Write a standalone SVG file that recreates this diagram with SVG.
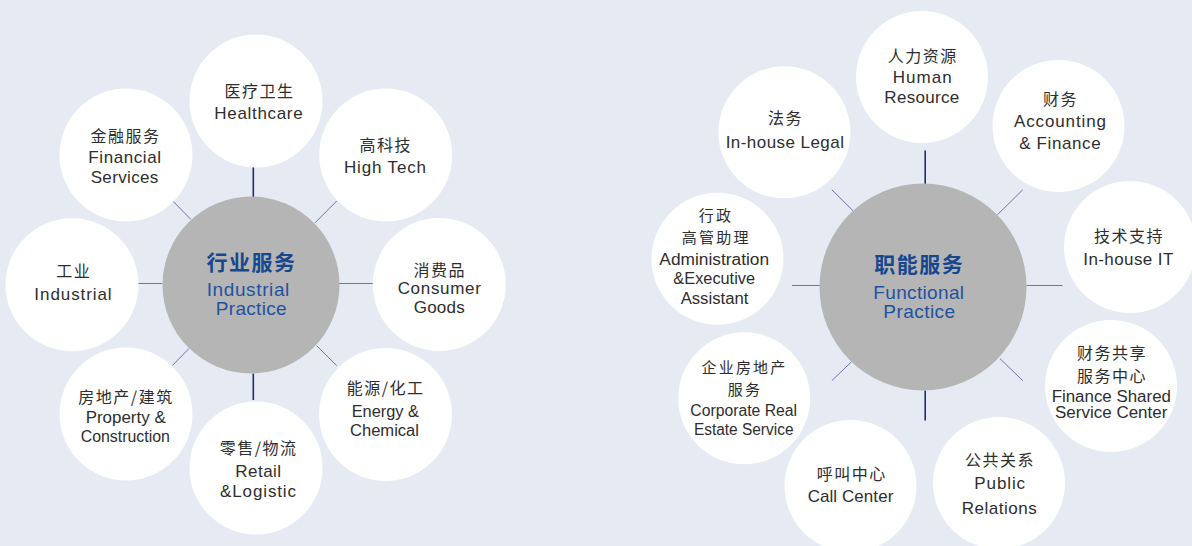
<svg xmlns="http://www.w3.org/2000/svg" width="1192" height="546" viewBox="0 0 1192 546">
<style>
.bg{fill:#e6eaf3}
.sat{fill:#ffffff}
.hub{fill:#b5b5b5}
.cv{stroke:#1d2f72;stroke-width:1.6;fill:none}
.cd{stroke:#6d72b3;stroke-width:1;fill:none}
text{text-anchor:middle;fill:#2e2e2e}
.zh{font-family:"Noto Sans CJK SC","Noto Sans CJK TC",sans-serif;font-size:16px;letter-spacing:1.5px}
.zs{font-family:"Noto Sans CJK SC","Noto Sans CJK TC",sans-serif;font-size:15px;letter-spacing:2.2px}
.en{font-family:"Liberation Sans",Arial,sans-serif;font-size:17px}
.et{font-family:"Liberation Sans",Arial,sans-serif;font-size:16px}
.hzh{font-family:"Noto Sans CJK SC","Noto Sans CJK TC",sans-serif;font-size:21px;font-weight:bold;letter-spacing:1.5px;fill:#17488f}
.hen{font-family:"Liberation Sans",Arial,sans-serif;font-size:19px;fill:#1f52a0}
</style>
<rect class="bg" x="0" y="0" width="1192" height="546"/>

<g id="connectors">
<line class="cv" x1="253.3" y1="167" x2="253.3" y2="197"/>
<line class="cv" x1="253.3" y1="373.5" x2="253.3" y2="400"/>
<line class="cd" x1="138" y1="283.5" x2="162.5" y2="283.5"/>
<line class="cd" x1="339" y1="283.5" x2="372.7" y2="283.5"/>
<line class="cd" x1="172.3" y1="200.5" x2="191" y2="219.5"/>
<line class="cd" x1="315" y1="222.8" x2="336.7" y2="201"/>
<line class="cd" x1="172.3" y1="365.6" x2="189" y2="348.5"/>
<line class="cd" x1="316.7" y1="345.7" x2="336.7" y2="365.6"/>

<line class="cv" x1="925.2" y1="150.4" x2="925.2" y2="184"/>
<line class="cv" x1="925.2" y1="390.5" x2="925.2" y2="420.6"/>
<line class="cd" x1="792" y1="285.5" x2="820" y2="285.5"/>
<line class="cd" x1="1026.5" y1="285.5" x2="1062.5" y2="285.5"/>
<line class="cd" x1="831.9" y1="189.8" x2="853" y2="210.7"/>
<line class="cd" x1="997.4" y1="214.8" x2="1022.7" y2="189.8"/>
<line class="cd" x1="999.9" y1="358.6" x2="1022.7" y2="380.6"/>
<line class="cd" x1="831.9" y1="380.6" x2="851.3" y2="362"/>
</g>

<!-- Left cluster -->
<g id="industrial-practice">
<circle class="hub" cx="251" cy="285" r="88.5"/>
<text class="hzh" x="251.5" y="270">行业服务</text>
<text class="hen" x="248" y="296" textLength="82.7">Industrial</text>
<text class="hen" x="251.2" y="315.3" textLength="71">Practice</text>
</g>
<g id="healthcare">
<circle class="sat" cx="256" cy="101" r="66.5"/>
<text class="zh" x="259.5" y="97">医疗卫生</text>
<text class="en" x="258.5" y="119.3" textLength="88.3">Healthcare</text>
</g>
<g id="high-tech">
<circle class="sat" cx="385.7" cy="155" r="66.5"/>
<text class="zh" x="385.7" y="150.7">高科技</text>
<text class="en" x="385" y="173" textLength="82">High Tech</text>
</g>
<g id="consumer-goods">
<circle class="sat" cx="439.3" cy="284.5" r="66.5"/>
<text class="zh" x="439.7" y="275.7">消费品</text>
<text class="en" x="439.3" y="294.2" textLength="83.3">Consumer</text>
<text class="en" x="439.2" y="313.4" textLength="51">Goods</text>
</g>
<g id="energy-chemical">
<circle class="sat" cx="385.5" cy="414.5" r="66.5"/>
<text class="zh" x="385.7" y="393.7">能源/化工</text>
<text class="et" x="385.3" y="417" textLength="67.3" lengthAdjust="spacingAndGlyphs">Energy &amp;</text>
<text class="et" x="384.5" y="436" textLength="69" lengthAdjust="spacingAndGlyphs">Chemical</text>
</g>
<g id="retail-logistic">
<circle class="sat" cx="256" cy="468" r="66.5"/>
<text class="zh" x="258.7" y="454">零售/物流</text>
<text class="en" x="258.2" y="477" textLength="45.7">Retail</text>
<text class="en" x="258" y="497" textLength="76">&amp;Logistic</text>
</g>
<g id="property-construction">
<circle class="sat" cx="126" cy="414" r="66.5"/>
<text class="zh" x="126" y="403.3">房地产/建筑</text>
<text class="et" x="125.7" y="423" textLength="80" lengthAdjust="spacingAndGlyphs">Property &amp;</text>
<text class="et" x="125.3" y="441.5" textLength="89.3" lengthAdjust="spacingAndGlyphs">Construction</text>
</g>
<g id="industrial">
<circle class="sat" cx="72" cy="284.7" r="66.5"/>
<text class="zh" x="73.7" y="277">工业</text>
<text class="en" x="73" y="300" textLength="77.3">Industrial</text>
</g>
<g id="financial-services">
<circle class="sat" cx="126" cy="155" r="66.5"/>
<text class="zh" x="125.5" y="141.5">金融服务</text>
<text class="en" x="124.7" y="163" textLength="72.7">Financial</text>
<text class="en" x="124.5" y="182.8" textLength="67.7">Services</text>
</g>

<!-- Right cluster -->
<g id="functional-practice">
<circle class="hub" cx="923" cy="287" r="103.5"/>
<text class="hzh" x="919.2" y="271.7">职能服务</text>
<text class="hen" x="918.7" y="299.3" textLength="90.7">Functional</text>
<text class="hen" x="919.2" y="318.3" textLength="71.7">Practice</text>
</g>
<g id="human-resource">
<circle class="sat" cx="922" cy="77" r="66"/>
<text class="zh" x="922.7" y="62">人力资源</text>
<text class="en" x="922.2" y="82.5" textLength="58.8">Human</text>
<text class="en" x="921.8" y="103" textLength="75">Resource</text>
</g>
<g id="accounting-finance">
<circle class="sat" cx="1058.5" cy="126" r="66"/>
<text class="zh" x="1060.5" y="105">财务</text>
<text class="en" x="1060" y="126.5" textLength="91.9">Accounting</text>
<text class="en" x="1060" y="148.7" textLength="81.3">&amp; Finance</text>
</g>
<g id="in-house-it">
<circle class="sat" cx="1130" cy="247" r="66"/>
<text class="zh" x="1129" y="242">技术支持</text>
<text class="en" x="1128.3" y="265" textLength="90">In-house IT</text>
</g>
<g id="finance-shared-service-center">
<circle class="sat" cx="1111" cy="386" r="66"/>
<text class="zh" x="1112" y="359">财务共享</text>
<text class="zh" x="1112" y="382">服务中心</text>
<text class="et" x="1111.3" y="402.3" textLength="119.3" lengthAdjust="spacingAndGlyphs">Finance Shared</text>
<text class="et" x="1111.2" y="418.3" textLength="112.3" lengthAdjust="spacingAndGlyphs">Service Center</text>
</g>
<g id="public-relations">
<circle class="sat" cx="999" cy="483" r="66"/>
<text class="zh" x="999.9" y="466">公共关系</text>
<text class="en" x="999.7" y="489" textLength="50.7">Public</text>
<text class="en" x="999.2" y="514" textLength="75">Relations</text>
</g>
<g id="call-center">
<circle class="sat" cx="850.5" cy="486" r="66"/>
<text class="zh" x="851.7" y="480">呼叫中心</text>
<text class="en" x="850.5" y="502.3" textLength="85.7">Call Center</text>
</g>
<g id="corporate-real-estate-service">
<circle class="sat" cx="744.2" cy="398.3" r="66"/>
<text class="zs" x="744.5" y="373">企业房地产</text>
<text class="zs" x="745" y="395.3">服务</text>
<text class="et" x="743.7" y="416.4" textLength="106.7" lengthAdjust="spacingAndGlyphs">Corporate Real</text>
<text class="et" x="743.7" y="435.2" textLength="99.6" lengthAdjust="spacingAndGlyphs">Estate Service</text>
</g>
<g id="administration-executive-assistant">
<circle class="sat" cx="717.5" cy="258.8" r="66"/>
<text class="zs" x="716" y="220.5">行政</text>
<text class="zs" x="716.2" y="242.8">高管助理</text>
<text class="et" x="714.2" y="265" textLength="109.7" lengthAdjust="spacingAndGlyphs">Administration</text>
<text class="et" x="714.2" y="284.3" textLength="81.7" lengthAdjust="spacingAndGlyphs">&amp;Executive</text>
<text class="et" x="714.5" y="304.3" textLength="67.7" lengthAdjust="spacingAndGlyphs">Assistant</text>
</g>
<g id="in-house-legal">
<circle class="sat" cx="784.4" cy="132.3" r="66"/>
<text class="zh" x="785.4" y="124">法务</text>
<text class="en" x="784.8" y="148" textLength="118.3">In-house Legal</text>
</g>
</svg>
